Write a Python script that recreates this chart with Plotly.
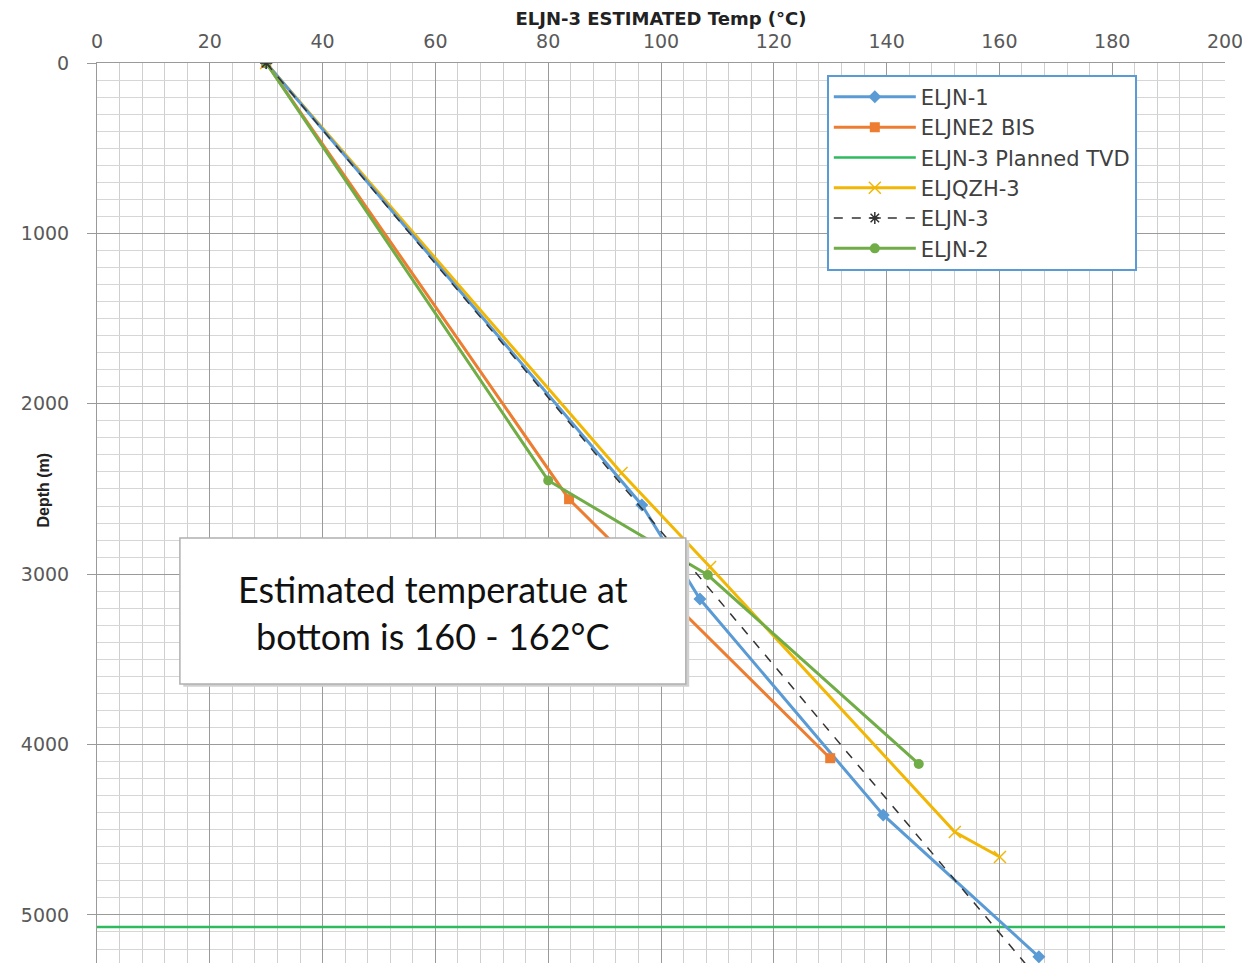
import plotly.graph_objects as go

# ---- data (temperature °C vs depth m) ----
eljn1_temp = [30, 96.6, 106.9, 139.4, 167]
eljn1_depth = [0, 2594, 3146, 4413, 5246]

eljne2_temp = [30, 83.7, 130]
eljne2_depth = [0, 2560, 4080]

tvd_temp = [0, 200]
tvd_depth = [5070, 5070]

eljqzh3_temp = [30, 93, 108.7, 152.1, 160.1]
eljqzh3_depth = [0, 2406, 2958, 4513, 4660]

eljn3_temp = [30, 167]
eljn3_depth = [0, 5380]

eljn2_temp = [30, 80, 108.3, 145.7]
eljn2_depth = [0, 2450, 3005, 4114]

x_ticks = [0, 20, 40, 60, 80, 100, 120, 140, 160, 180, 200]
y_ticks = [0, 1000, 2000, 3000, 4000, 5000]

BLUE = "#5b9bd5"
ORANGE = "#ed7d31"
YELLOW = "#f2b705"
GREEN = "#70ad47"
TVD_GREEN = "#2dbb5d"

fig = go.Figure()

fig.add_trace(go.Scatter(x=tvd_temp, y=tvd_depth, name="ELJN-3 Planned TVD",
                         mode="lines", line=dict(color=TVD_GREEN, width=2.5),
                         legendrank=3, legendgroup="g3"))
fig.add_trace(go.Scatter(x=eljqzh3_temp, y=eljqzh3_depth, name="ELJQZH-3",
                         mode="lines+markers", line=dict(color=YELLOW, width=3),
                         marker=dict(symbol="x-thin-open", size=12, line=dict(color=YELLOW, width=1.5)),
                         legendrank=4, legendgroup="g4"))
fig.add_trace(go.Scatter(x=eljn1_temp, y=eljn1_depth, name="ELJN-1",
                         mode="lines+markers", line=dict(color=BLUE, width=3),
                         marker=dict(symbol="diamond", size=10, color=BLUE),
                         legendrank=1, legendgroup="g1"))
fig.add_trace(go.Scatter(x=eljne2_temp, y=eljne2_depth, name="ELJNE2 BIS",
                         mode="lines+markers", line=dict(color=ORANGE, width=3),
                         marker=dict(symbol="square", size=10, color=ORANGE),
                         legendrank=2, legendgroup="g2"))
fig.add_trace(go.Scatter(x=eljn2_temp, y=eljn2_depth, name="ELJN-2",
                         mode="lines+markers", line=dict(color=GREEN, width=3),
                         marker=dict(symbol="circle", size=10, color=GREEN),
                         legendrank=6, legendgroup="g6"))
fig.add_trace(go.Scatter(x=eljn3_temp, y=eljn3_depth, name="ELJN-3",
                         mode="lines+markers", line=dict(color="#333333", width=1.5, dash="dash"),
                         marker=dict(symbol="asterisk-open", size=10, line=dict(color="#4472c4", width=1.5)),
                         legendrank=5, legendgroup="g5"))

# annotation box
fig.add_shape(type="rect", xref="x", yref="y", x0=15.3, x1=105.0, y0=2800, y1=3660,
              fillcolor="#d0d0d0", line=dict(width=0), layer="above")
fig.add_shape(type="rect", xref="x", yref="y", x0=14.7, x1=104.4, y0=2788, y1=3644,
              fillcolor="white", line=dict(color="#b0b0b0", width=1.5), layer="above")
fig.add_annotation(x=59.6, y=3225, xref="x", yref="y",
                   text="Estimated temperatue at<br>bottom is 160 - 162°C",
                   showarrow=False, font=dict(family="Lato", size=36, color="#111111"),
                   align="center")

# y-axis title (placed like the original, overlapping the label column)
fig.add_annotation(x=-0.0567, y=0.5256, xref="paper", yref="paper",
                   text="<b>Depth (m)</b>", textangle=-90, showarrow=False,
                   font=dict(family="Liberation Sans", size=16, color="#222222"))

tick_font = dict(family="DejaVu Sans", size=19, color="#595959")

fig.update_layout(
    width=1250, height=963,
    margin=dict(l=89, r=33, t=55, b=8),
    paper_bgcolor="white", plot_bgcolor="white",
    showlegend=True,
    legend=dict(x=0.647, y=0.987, xanchor="left", yanchor="top",
                bgcolor="white", bordercolor=BLUE, borderwidth=2,
                font=dict(family="DejaVu Sans", size=21, color="#404040"),
                itemwidth=82, tracegroupgap=0, traceorder="grouped"),
    xaxis=dict(side="top", range=[0, 200], tickvals=x_ticks, tickfont=tick_font,
               automargin=False,
               showgrid=True, gridcolor="#9a9a9a", gridwidth=1,
               minor=dict(dtick=4, showgrid=True, gridcolor="#cfcfcf", gridwidth=1),
               showline=True, linecolor="#9a9a9a", ticks="", zeroline=False,
               ticklabelstandoff=6,
               title=dict(text="<b>ELJN-3 ESTIMATED Temp (°C)</b>",
                          font=dict(family="DejaVu Sans", size=18, color="#222222"),
                          standoff=5)),
    yaxis=dict(range=[5282, 0], tickvals=y_ticks, tickfont=tick_font,
               automargin=False,
               showgrid=True, gridcolor="#9a9a9a", gridwidth=1,
               minor=dict(dtick=100, showgrid=True, gridcolor="#d6d6d6", gridwidth=1),
               showline=True, linecolor="#9a9a9a", ticks="outside", ticklen=9,
               tickcolor="#9a9a9a", zeroline=False, ticklabelstandoff=14),
)

fig.write_html("out.html")
